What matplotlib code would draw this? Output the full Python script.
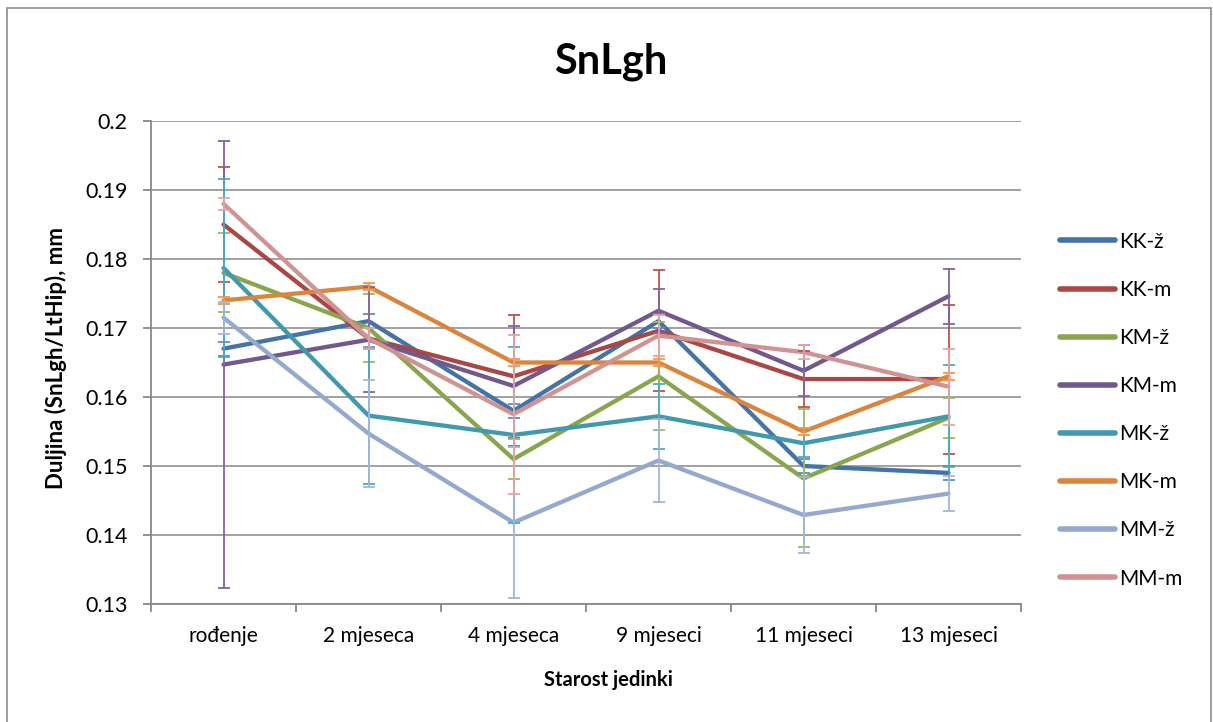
import matplotlib
matplotlib.use("Agg")
import matplotlib.pyplot as plt
from matplotlib.patches import Rectangle
from matplotlib.ticker import FuncFormatter, FixedLocator
import numpy as np

plt.rcParams['font.family'] = ['Lato', 'DejaVu Sans']

categories = ["rođenje", "2 mjeseca", "4 mjeseca", "9 mjeseci", "11 mjeseci", "13 mjeseci"]
series_names = ["KK-ž", "KK-m", "KM-ž", "KM-m", "MK-ž", "MK-m", "MM-ž", "MM-m"]

kk_z = [0.167, 0.171, 0.158, 0.171, 0.150, 0.149]
kk_m = [0.185, 0.1685, 0.163, 0.1696, 0.1626, 0.1626]
km_z = [0.178, 0.170, 0.151, 0.163, 0.1482, 0.157]
km_m = [0.1647, 0.1683, 0.1616, 0.1725, 0.1638, 0.1746]
mk_z = [0.1787, 0.1573, 0.1545, 0.1572, 0.1533, 0.1572]
mk_m = [0.174, 0.176, 0.165, 0.165, 0.155, 0.163]
mm_z = [0.1715, 0.1547, 0.1418, 0.1508, 0.1429, 0.146]
mm_m = [0.188, 0.1685, 0.1575, 0.1689, 0.1665, 0.1615]

kk_z_err = [0.001, 0.001, 0.001, 0.001, 0.001, 0.001]
kk_m_err = [0.0083, 0.0015, 0.0089, 0.0088, 0.004, 0.0108]
km_z_err = [0.0057, 0.0049, 0.0029, 0.0078, 0.010, 0.0029]
km_m_err = [0.0324, 0.0076, 0.0087, 0.0032, 0.0037, 0.004]
mk_z_err = [0.0129, 0.0099, 0.0127, 0.0047, 0.002, 0.0074]
mk_m_err = [0.0005, 0.0005, 0.0005, 0.0005, 0.0005, 0.0005]
mm_z_err = [0.0023, 0.0078, 0.0109, 0.006, 0.0055, 0.0025]
mm_m_err = [0.0009, 0.0015, 0.0115, 0.003, 0.001, 0.0055]

values = [kk_z, kk_m, km_z, km_m, mk_z, mk_m, mm_z, mm_m]
errors = [kk_z_err, kk_m_err, km_z_err, km_m_err, mk_z_err, mk_m_err, mm_z_err, mm_m_err]

line_colors = ["#4572A7", "#AA4643", "#89A54E", "#71588F", "#4198AF", "#DB843D", "#93A9CF", "#D19392"]
err_colors = ["#5E8CC4", "#C0504D", "#9BBB59", "#8064A2", "#4BACC6", "#F79646", "#A0B8DC", "#E6A4A3"]

W, H = 1213, 722
fig = plt.figure(figsize=(W / 100, H / 100), dpi=100)
ax = fig.add_axes([151 / W, (H - 604) / H, 870 / W, 483 / H])

x = np.arange(len(categories))
for vals, errs, lc, ec, name in zip(values, errors, line_colors, err_colors, series_names):
    ax.plot(x, vals, color=lc, lw=3.1, label=name, solid_capstyle='round', zorder=3)
    ax.errorbar(x, vals, yerr=errs, fmt='none', ecolor=ec, elinewidth=1.3,
                capsize=4, capthick=1.3, zorder=4)

ax.set_xlim(-0.5, len(categories) - 0.5)
ax.set_ylim(0.13, 0.2)
yt = [0.13, 0.14, 0.15, 0.16, 0.17, 0.18, 0.19, 0.2]
ax.yaxis.set_major_locator(FixedLocator(yt))
ax.yaxis.set_major_formatter(FuncFormatter(lambda v, p: ("%g" % round(v, 3))))
ax.grid(axis='y', color='#9a9a9a', lw=1.3)
ax.set_axisbelow(True)

ax.set_xticks(x)
ax.set_xticklabels(categories, fontsize=15)
ax.tick_params(axis='x', length=0, pad=16)
ax.set_xticks(np.arange(-0.5, len(categories), 1.0), minor=True)
ax.tick_params(axis='x', which='minor', length=6, color='#888888', width=1.3)
ax.tick_params(axis='y', labelsize=15.5, length=6, color='#888888', width=1.3, pad=11)

for s in ['top', 'right']:
    ax.spines[s].set_visible(False)
for s in ['left', 'bottom']:
    ax.spines[s].set_color('#888888')
    ax.spines[s].set_linewidth(1.3)

fig.text(611 / W, 1 - 62 / H, "SnLgh", fontsize=30, fontweight='bold', ha='center', va='center')
fig.text(608 / W, 1 - 680 / H, "Starost jedinki", fontsize=14.5, fontweight='bold',
         ha='center', va='center')
fig.text(56 / W, 1 - 358 / H, "Duljina (SnLgh/LtHip), mm", fontsize=16, fontweight='bold',
         ha='center', va='center', rotation=90)

leg = fig.legend(loc='upper left', bbox_to_anchor=(0.858, 0.705), frameon=False,
                 fontsize=15, handlelength=2.64, handletextpad=0.2, labelspacing=1.35)
for h in leg.get_lines():
    h.set_linewidth(4)

fig.patches.append(Rectangle((0.006, -0.02), 0.992, 1.009, transform=fig.transFigure,
                             fill=False, edgecolor='#8c8c8c', lw=1.2))

fig.savefig("out.png", dpi=100)
